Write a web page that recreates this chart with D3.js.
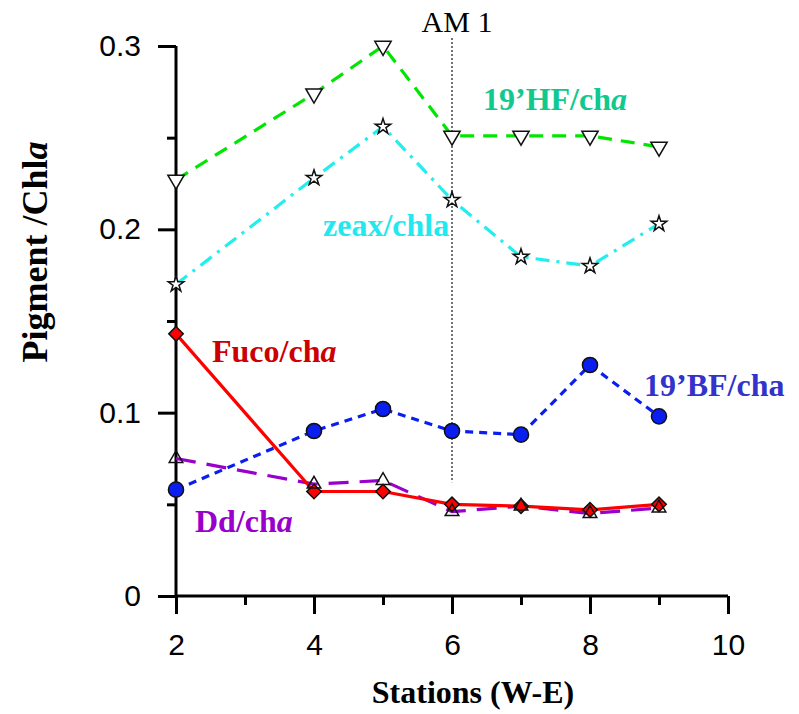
<!DOCTYPE html>
<html>
<head>
<meta charset="utf-8">
<script src="https://cdn.jsdelivr.net/npm/d3@7"></script>
<style>
  body { margin: 0; background: #fff; }
  svg { display: block; }
</style>
</head>
<body>
<div id="chart"></div>
<script>
// data
var stations = [2, 4, 5, 6, 7, 8, 9];
var hf19 = [0.227, 0.274, 0.300, 0.251, 0.251, 0.251, 0.245];
var zeax = [0.170, 0.228, 0.256, 0.216, 0.185, 0.180, 0.203];
var fuco = [0.143, 0.057, 0.057, 0.050, 0.049, 0.047, 0.050];
var dd   = [0.075, 0.061, 0.063, 0.046, 0.049, 0.045, 0.048];
var bf19 = [0.058, 0.090, 0.102, 0.090, 0.088, 0.126, 0.098];
var xTicks = [2, 4, 6, 8, 10];
var xMinorTicks = [3, 5, 7, 9];
var yTicks = [0, 0.1, 0.2, 0.3];
var yMinorTicks = [0.05, 0.15, 0.25];
var markerStation = 6;   // AM 1 line

var width = 799, height = 714;
var margin = {top: 46, right: 71, bottom: 118, left: 176};

var svg = d3.select("#chart").append("svg")
    .attr("width", width)
    .attr("height", height);

// scales
var xScale = d3.scaleLinear()
    .domain([2, 10])
    .range([margin.left, width - margin.right]);
var yScale = d3.scaleLinear()
    .domain([0, 0.3])
    .range([height - margin.bottom, margin.top]);

// AM 1 dotted line
svg.append("line")
    .attr("x1", xScale(markerStation)).attr("x2", xScale(markerStation))
    .attr("y1", 38).attr("y2", yScale(0.062))
    .style("stroke", "#444")
    .style("stroke-width", 1.5)
    .style("stroke-dasharray", "2,2");
svg.append("text")
    .attr("x", xScale(markerStation) + 5)
    .attr("y", 32)
    .attr("text-anchor", "middle")
    .style("font-family", "'Liberation Serif', serif")
    .style("font-size", "30px")
    .text("AM 1");

// axes
var xAxis = d3.axisBottom(xScale)
    .tickValues(xTicks)
    .tickFormat(d3.format("d"))
    .tickSize(18)
    .tickPadding(20);
var xMinor = d3.axisBottom(xScale)
    .tickValues(xMinorTicks)
    .tickFormat("")
    .tickSize(9);
var yAxis = d3.axisLeft(yScale)
    .tickValues(yTicks)
    .tickFormat(function(d){ return d === 0 ? "0" : d3.format(".1f")(d); })
    .tickSize(18)
    .tickPadding(17);
var yMinor = d3.axisLeft(yScale)
    .tickValues(yMinorTicks)
    .tickFormat("")
    .tickSize(9);

function styleAxis(g){
    g.select(".domain").remove();
    g.selectAll("line").style("stroke", "#000").style("stroke-width", 3);
    g.selectAll("text")
        .style("font-family", "'Liberation Sans', Arial, sans-serif")
        .style("font-size", "30px")
        .style("fill", "#000");
}

svg.append("g")
    .attr("transform", "translate(0," + yScale(0) + ")")
    .call(xAxis).call(styleAxis);
svg.append("g")
    .attr("transform", "translate(0," + yScale(0) + ")")
    .call(xMinor).call(styleAxis);
svg.append("g")
    .attr("transform", "translate(" + xScale(2) + ",0)")
    .call(yAxis).call(styleAxis);
svg.append("g")
    .attr("transform", "translate(" + xScale(2) + ",0)")
    .call(yMinor).call(styleAxis);

// axis lines
svg.append("line")
    .attr("x1", xScale(2)).attr("x2", xScale(10))
    .attr("y1", yScale(0)).attr("y2", yScale(0))
    .style("stroke", "#000").style("stroke-width", 3);
svg.append("line")
    .attr("x1", xScale(2)).attr("x2", xScale(2))
    .attr("y1", yScale(0)).attr("y2", yScale(0.3))
    .style("stroke", "#000").style("stroke-width", 3);

// axis titles
svg.append("text")
    .attr("x", 473)
    .attr("y", 703)
    .attr("text-anchor", "middle")
    .style("font-family", "'Liberation Serif', serif")
    .style("font-weight", "bold")
    .style("font-size", "32px")
    .text("Stations (W-E)");

var yTitle = svg.append("text")
    .attr("transform", "translate(47,252) rotate(-90)")
    .attr("text-anchor", "middle")
    .style("font-family", "'Liberation Serif', serif")
    .style("font-weight", "bold")
    .style("font-size", "36px");
yTitle.append("tspan").text("Pigment /Chl");
yTitle.append("tspan").style("font-style", "italic").text("a");

// series
var series = [
    {name: "hf", values: hf19, color: "#00e600", dash: "14,9"},
    {name: "zeax", values: zeax, color: "#22eeee", dash: "14,7,3,7"},
    {name: "bf", values: bf19, color: "#0a1ef0", dash: "8,6"},
    {name: "dd", values: dd, color: "#9900cc", dash: "20,11"},
    {name: "fuco", values: fuco, color: "#ff0000", dash: null}
];

var line = d3.line()
    .x(function(d){ return xScale(d.x); })
    .y(function(d){ return yScale(d.y); });

function pts(values){
    return values.map(function(v, i){ return {x: stations[i], y: v}; });
}

series.forEach(function(s){
    svg.append("path")
        .datum(pts(s.values))
        .attr("d", line)
        .style("fill", "none")
        .style("stroke", s.color)
        .style("stroke-width", 3.2)
        .style("stroke-dasharray", s.dash);
});

// markers
function drawMarkers(values, symbol, size, fill, rot){
    svg.append("g").selectAll("path")
        .data(pts(values))
        .enter()
        .append("path")
            .attr("d", d3.symbol().type(symbol).size(size))
            .attr("transform", function(d){
                return "translate(" + xScale(d.x) + "," + yScale(d.y) + ") rotate(" + rot + ")";
            })
            .style("fill", fill)
            .style("stroke", "#111")
            .style("stroke-width", 1.5);
}

drawMarkers(hf19, d3.symbolTriangle, 115, "#fff", 180);
drawMarkers(zeax, d3.symbolStar, 75, "#fff", 0);
drawMarkers(bf19, d3.symbolCircle, 180, "#0a1ef0", 0);
drawMarkers(fuco, d3.symbolSquare, 105, "#ff0000", 45);
drawMarkers(dd, d3.symbolTriangle, 80, "none", 0);

// series labels
var labels = [
    {x: 483, y: 110, color: "#10c98e", main: "19\u2019HF/ch", it: "a"},
    {x: 323, y: 236, color: "#22e8f0", main: "zeax/chla", it: ""},
    {x: 212, y: 362, color: "#cc0000", main: "Fuco/ch", it: "a"},
    {x: 644, y: 396, color: "#3333cc", main: "19\u2019BF/cha", it: ""},
    {x: 195, y: 532, color: "#9900cc", main: "Dd/ch", it: "a"}
];
labels.forEach(function(l){
    var t = svg.append("text")
        .attr("x", l.x).attr("y", l.y)
        .style("font-family", "'Liberation Serif', serif")
        .style("font-weight", "bold")
        .style("font-size", "32px")
        .style("fill", l.color);
    t.append("tspan").text(l.main);
    if (l.it) t.append("tspan").style("font-style", "italic").text(l.it);
});
</script>
</body>
</html>
